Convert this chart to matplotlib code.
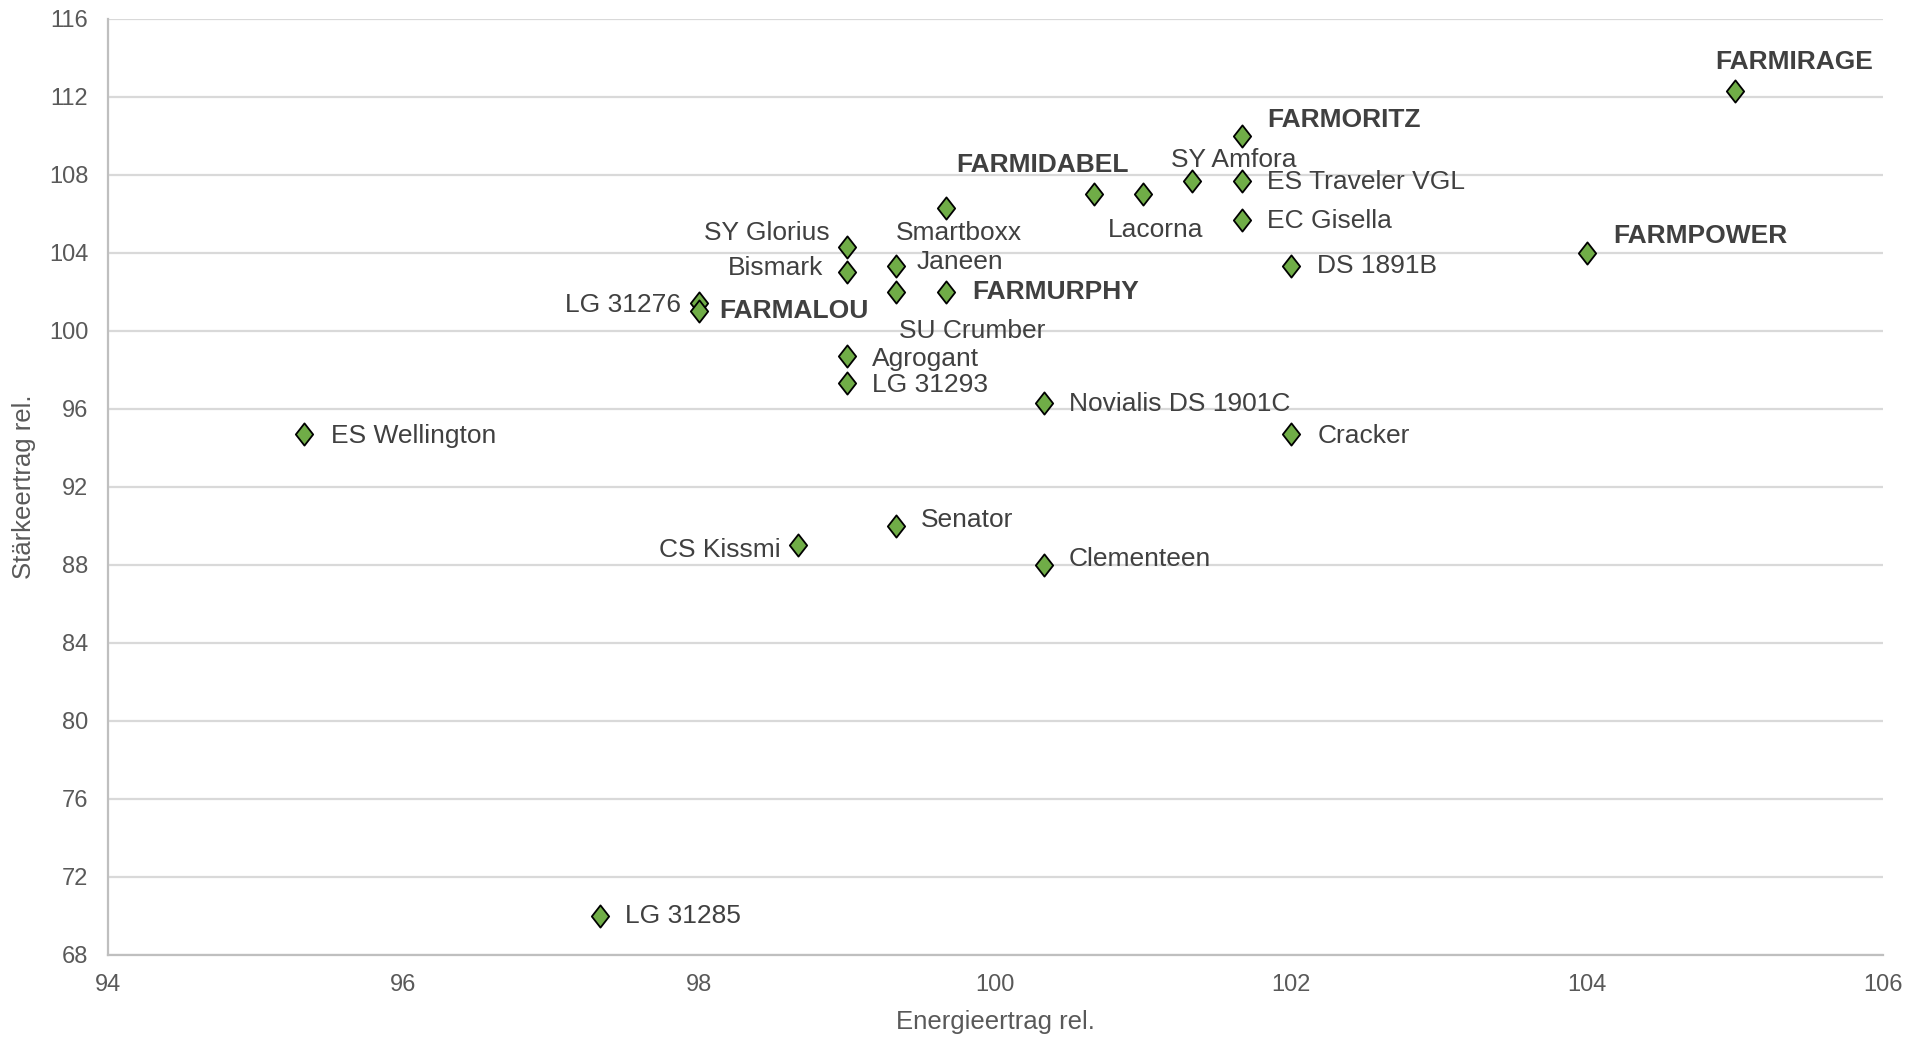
import matplotlib.pyplot as plt
from matplotlib.path import Path

plt.rcParams['font.family'] = ['Liberation Sans', 'DejaVu Sans']

# Sorten, Energieertrag rel. (x) und Stärkeertrag rel. (y)
names = ['FARMIRAGE', 'FARMORITZ', 'SY Amfora', 'ES Traveler VGL', 'FARMIDABEL',
         'Lacorna', 'EC Gisella', 'Smartboxx', 'SY Glorius', 'Bismark', 'Janeen',
         'FARMURPHY', 'SU Crumber', 'LG 31276', 'FARMALOU', 'FARMPOWER',
         'DS 1891B', 'Agrogant', 'LG 31293', 'Novialis DS 1901C', 'Cracker',
         'ES Wellington', 'Senator', 'CS Kissmi', 'Clementeen', 'LG 31285']
energie = [105.0, 101.67, 101.33, 101.67, 100.67,
           101.0, 101.67, 99.67, 99.0, 99.0, 99.33,
           99.67, 99.33, 98.0, 98.0, 104.0,
           102.0, 99.0, 99.0, 100.33, 102.0,
           95.33, 99.33, 98.67, 100.33, 97.33]
staerke = [112.3, 110.0, 107.7, 107.7, 107.0,
           107.0, 105.7, 106.3, 104.3, 103.0, 103.3,
           102.0, 102.0, 101.4, 101.0, 104.0,
           103.3, 98.7, 97.3, 96.3, 94.7,
           94.7, 90.0, 89.0, 88.0, 70.0]
bold_names = ['FARMIRAGE', 'FARMORITZ', 'FARMIDABEL', 'FARMURPHY', 'FARMALOU', 'FARMPOWER']

# label placement (offset in points from the marker, horizontal alignment)
label_pos = {
    'FARMIRAGE': (-14, 21, 'left'),
    'FARMORITZ': (18, 11, 'left'),
    'SY Amfora': (30, 15, 'center'),
    'ES Traveler VGL': (18, -1, 'left'),
    'FARMIDABEL': (-37, 21, 'center'),
    'Lacorna': (9, -26, 'center'),
    'EC Gisella': (18, -1, 'left'),
    'Smartboxx': (9, -18, 'center'),
    'SY Glorius': (-13, 10, 'right'),
    'Bismark': (-17, 3, 'right'),
    'Janeen': (15, 3, 'left'),
    'FARMURPHY': (19, 0, 'left'),
    'SU Crumber': (55, -28, 'center'),
    'LG 31276': (-13, -1, 'right'),
    'FARMALOU': (14, 0, 'left'),
    'FARMPOWER': (19, 12, 'left'),
    'DS 1891B': (19, 0, 'left'),
    'Agrogant': (18, -2, 'left'),
    'LG 31293': (18, -1, 'left'),
    'Novialis DS 1901C': (18, -1, 'left'),
    'Cracker': (19, -1, 'left'),
    'ES Wellington': (19, -1, 'left'),
    'Senator': (18, 4, 'left'),
    'CS Kissmi': (-13, -3, 'right'),
    'Clementeen': (18, 4, 'left'),
    'LG 31285': (18, 0, 'left'),
}

diamond = Path([(0, 1), (0.78, 0), (0, -1), (-0.78, 0), (0, 1)],
               [Path.MOVETO, Path.LINETO, Path.LINETO, Path.LINETO, Path.CLOSEPOLY])

fig = plt.figure(figsize=(19.23, 10.38), dpi=100)
ax = fig.add_axes([0.056, 0.080, 0.923, 0.902])

ax.plot(energie, staerke, linestyle='none', marker=diamond, markersize=16,
        markerfacecolor='#70ad47', markeredgecolor='black', markeredgewidth=1.3, zorder=3)

for name, x, y in zip(names, energie, staerke):
    dx, dy, ha = label_pos[name]
    ax.annotate(name, (x, y), xytext=(dx, dy), textcoords='offset points',
                ha=ha, va='center', fontsize=19, color='#404040',
                fontweight='bold' if name in bold_names else 'normal', zorder=4)

ax.set_xlim(94, 106)
ax.set_ylim(68, 116)
ax.set_xticks(range(94, 107, 2))
ax.set_yticks(range(68, 117, 4))
ax.tick_params(length=0, labelsize=17, labelcolor='#595959')
ax.tick_params(axis='y', pad=14)
ax.tick_params(axis='x', pad=14)

ax.grid(axis='y', color='#d9d9d9', linewidth=1.6)
ax.set_axisbelow(True)
for side in ['top', 'right']:
    ax.spines[side].set_visible(False)
for side in ['left', 'bottom']:
    ax.spines[side].set_color('#bfbfbf')
    ax.spines[side].set_linewidth(1.6)

ax.set_xlabel('Energieertrag rel.', fontsize=18.5, color='#595959', labelpad=10)
ax.set_ylabel('Stärkeertrag rel.', fontsize=18.5, color='#595959', labelpad=9)

fig.savefig('out.png', dpi=100, facecolor='white')
